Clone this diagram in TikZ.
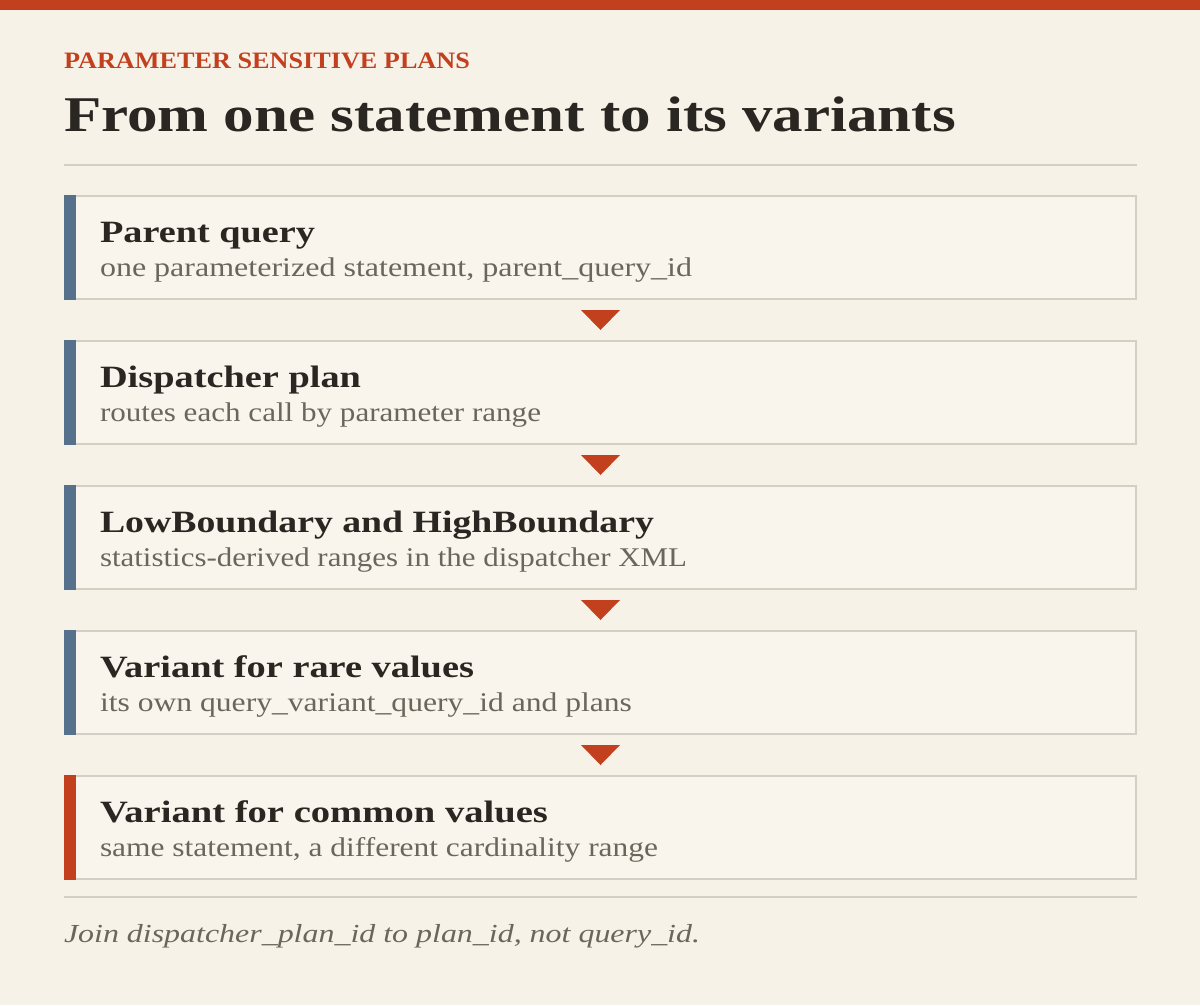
\documentclass[tikz,border=0pt]{standalone}
\usepackage{fontspec}
\usepackage{graphicx}
\setmainfont{Liberation Serif}
\usetikzlibrary{calc}
\definecolor{bg}{HTML}{F7F2E8}
\definecolor{boxfill}{HTML}{F9F5EC}
\definecolor{accred}{HTML}{C3401F}
\definecolor{accblue}{HTML}{56718C}
\definecolor{ink}{HTML}{2A2621}
\definecolor{muted}{HTML}{6B655B}
\definecolor{rulec}{HTML}{D6CEC2}
\newsavebox\fitbox
% set #2 and stretch it horizontally to width #1 (px)
\newcommand\fitw[2]{\sbox\fitbox{#2}\scalebox{\fpeval{#1/(\the\wd\fitbox)}}[1]{\usebox\fitbox}}
\begin{document}
\begin{tikzpicture}[x=1pt,y=-1pt,
  txt/.style={anchor=base west,inner sep=0pt,outer sep=0pt},
  card/.style={draw=rulec,line width=2pt,fill=boxfill,anchor=north west,
    minimum width=1071pt,minimum height=103pt,inner sep=0pt,outer sep=0pt},
  headtxt/.style={txt,text=ink,font=\fontsize{31}{36}\selectfont\bfseries},
  subtxt/.style={txt,text=muted,font=\fontsize{27}{32}\selectfont},
  arrowtri/.style={fill=accred},
  rulel/.style={draw=rulec,line width=2pt}]
\useasboundingbox (0,0) rectangle (1200,1005);
\fill[bg] (0,0) rectangle (1200,1005);
\fill[accred] (0,0) rectangle (1200,10);
% kicker and title
\node[txt,text=accred,font=\fontsize{23.5}{28}\selectfont\bfseries] (kicker) at (64,68.5) {\fitw{406}{PARAMETER SENSITIVE PLANS}};
\node[txt,text=ink,font=\fontsize{50}{60}\selectfont\bfseries] (title) at (64,131) {\fitw{892}{From one statement to its variants}};
\coordinate (r1a) at (64,165);
\coordinate (r1b) at (1137,165);
\draw[rulel] (r1a) -- (r1b);
% cards
\foreach \i/\y/\c/\h/\hw/\s/\sw in {
  1/195/accblue/{Parent query}/215/{one parameterized statement, parent\_query\_id}/592,
  2/340/accblue/{Dispatcher plan}/261/{routes each call by parameter range}/441,
  3/485/accblue/{LowBoundary and HighBoundary}/554/{statistics-derived ranges in the dispatcher XML}/587,
  4/630/accblue/{Variant for rare values}/374/{its own query\_variant\_query\_id and plans}/532,
  5/775/accred/{Variant for common values}/448/{same statement, a different cardinality range}/558}{
  \node[card] (b\i) at (65,\y+1) {};
  \fill[\c] ($(b\i.north west)+(-1,-1)$) rectangle ($(b\i.south west)+(11,1)$);
  \node[headtxt] (h\i) at (100,\y+47) {\fitw{\hw}{\h}};
  \node[subtxt] (s\i) at (100,\y+81) {\fitw{\sw}{\s}};
}
% connectors (triangles)
\foreach \a/\b in {1/2,2/3,3/4,4/5}{
  \fill[arrowtri] ($(b\a.south)+(-19.5,11)$) -- ($(b\a.south)+(19.5,11)$) -- ($(b\a.south)+(0,31)$) -- cycle;
}
\coordinate (r2a) at (64,897);
\coordinate (r2b) at (1137,897);
\draw[rulel] (r2a) -- (r2b);
\node[txt,text=muted,font=\fontsize{26}{30}\selectfont\itshape] (foot) at (64,942.5) {\fitw{636}{Join dispatcher\_plan\_id to plan\_id, not query\_id.}};
\end{tikzpicture}
\end{document}
